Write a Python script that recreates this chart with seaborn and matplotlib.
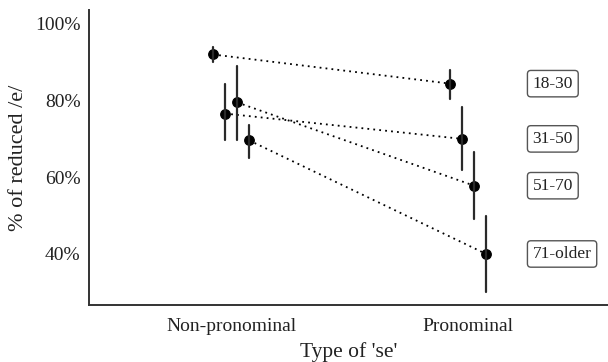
import matplotlib
matplotlib.use("Agg")
import matplotlib.pyplot as plt
import seaborn as sns
import pandas as pd

types = ["Non-pronominal", "Pronominal"]
ages = ["18-30", "31-50", "51-70", "71-older"]
# estimates (%), lower and upper bounds of error bars, per age group, per type
est = {"18-30": [92.0, 84.4], "31-50": [76.6, 70.0], "51-70": [79.5, 57.8], "71-older": [69.6, 40.0]}
low = {"18-30": [90.0, 80.5], "31-50": [69.6, 62.0], "51-70": [69.8, 49.0], "71-older": [65.0, 30.0]}
high = {"18-30": [94.0, 88.0], "31-50": [84.2, 78.2], "51-70": [89.0, 66.7], "71-older": [73.5, 50.0]}

rows = []
for a in ages:
    for i, t in enumerate(types):
        for v in (low[a][i], est[a][i], high[a][i]):
            rows.append({"type": t, "age": a, "val": v})
df = pd.DataFrame(rows)

sns.set_style("white")
plt.rcParams["font.family"] = ["Liberation Serif", "DejaVu Serif"]

fig = plt.figure(figsize=(6.08, 3.62), dpi=100)
ax = fig.add_axes([89/608, 57/362, 1 - 89/608, (305-10)/362])

sns.pointplot(data=df, x="type", y="val", hue="age", order=types, hue_order=ages,
              estimator="median", errorbar=("pi", 100), dodge=0.152,
              palette=["black"]*4, linestyle=(0, (1, 2.3)), markers="o", markersize=6.8,
              linewidth=1.3, err_kws={"linewidth": 1.6, "color": "#2a2a2a"},
              legend=False, ax=ax)

for a in ages:
    ax.text(1.272, est[a][1], a, ha="left", va="center", fontsize=12.5, color="#222222",
            bbox=dict(boxstyle="round,pad=0.3,rounding_size=0.2", fc="white", ec="#555555", lw=1.0))

ax.set_xlim(-0.6, 1.59)
ax.set_ylim(26.7, 103.6)
ax.set_yticks([40, 60, 80, 100])
ax.set_yticklabels([f"{v}%" for v in [40, 60, 80, 100]])
ax.set_xlabel("Type of 'se'", fontsize=15.5, labelpad=5, color="#222222")
ax.set_ylabel("% of reduced /e/", fontsize=16, labelpad=5, color="#222222")
ax.tick_params(axis="both", labelsize=14, length=3, width=1, color="#333333",
               labelcolor="#222222", direction="out", pad=3)
ax.tick_params(axis="x", pad=6.5)
for s in ["top", "right"]:
    ax.spines[s].set_visible(False)
for s in ["left", "bottom"]:
    ax.spines[s].set_color("#333333")
    ax.spines[s].set_linewidth(1.4)

fig.savefig("out.png", dpi=100)
